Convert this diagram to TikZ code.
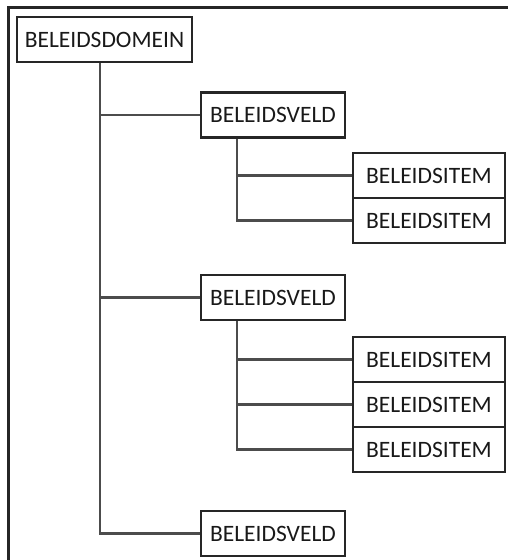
\documentclass[tikz,border=0pt]{standalone}
\usepackage{fontspec}
\setmainfont{Carlito}
\begin{document}
\begin{tikzpicture}
[x=1pt,y=-1pt,
box/.style={draw=black!85,line width=2.2pt,font=\fontsize{23.5}{26}\selectfont,text=black!90,inner sep=0pt,minimum height=45pt},
item/.style={box,minimum width=152pt},
veld/.style={box,minimum width=144pt},
link/.style={draw=black!70,line width=2.2pt}]
\useasboundingbox (0,0) rectangle (508,560);
\draw[black!85,line width=2.2pt] (8.5,560) -- (8.5,7.5) -- (508,7.5);
\node[box,minimum width=175pt] (domein) at (104.5,39.5) {BELEIDSDOMEIN}; % root
\node[veld] (veld1) at (273,115) {BELEIDSVELD};
\node[veld] (veld2) at (273,297.5) {BELEIDSVELD};
\node[veld] (veld3) at (273,533.5) {BELEIDSVELD};
\node[item] (item11) at (429,175.5) {BELEIDSITEM};
\node[item] (item12) at (429,220.5) {BELEIDSITEM};
\node[item] (item21) at (429,359.5) {BELEIDSITEM};
\node[item] (item22) at (429,404.5) {BELEIDSITEM};
\node[item] (item23) at (429,449.5) {BELEIDSITEM};
\coordinate (trunk) at ([xshift=-4.5pt]domein.south);
\draw[link] (trunk) |- (veld1.west);
\draw[link] (trunk) |- (veld2.west);
\draw[link] (trunk) |- (veld3.west);
\foreach \v/\items in {veld1/{item11,item12},veld2/{item21,item22,item23}} {
  \coordinate (sub) at ([xshift=37pt]\v.south west);
  \foreach \i in \items
    \draw[link] (sub) |- (\i.west);
}
\end{tikzpicture}
\end{document}
